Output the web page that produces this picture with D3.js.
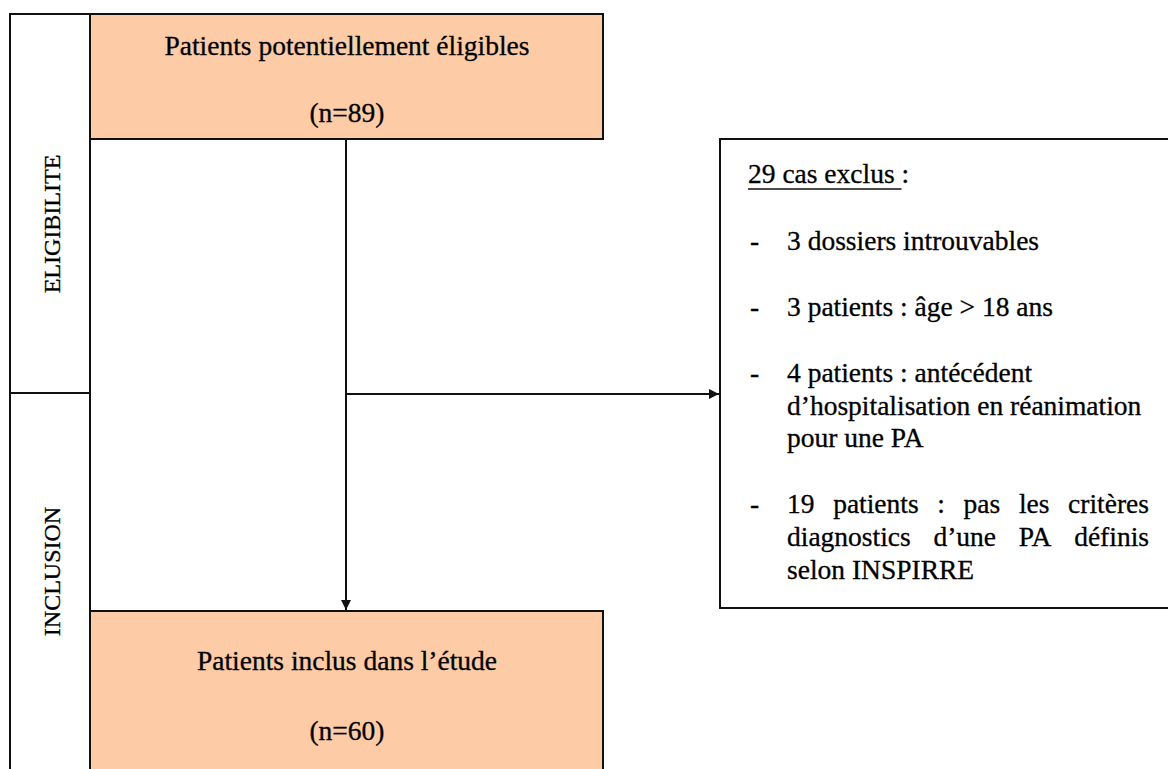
<!DOCTYPE html>
<html>
<head>
<meta charset="utf-8">
<script src="https://cdn.jsdelivr.net/npm/d3@7"></script>
<style>
  body { margin: 0; background: #fff; }
  svg { display: block; }
  text { font-family: "Liberation Serif", "Times New Roman", serif; fill: #000; stroke: #000; stroke-width: 0.3px; }
</style>
</head>
<body>
<svg class="root"></svg>
<script>
// flow data
var stageLabels = ["ELIGIBILITE", "INCLUSION"];
var boxTitles = ["Patients potentiellement éligibles", "Patients inclus dans l’étude"];
var boxCounts = [89, 60];
var excludedTotal = 29;
var exclusionItems = [
  ["3 dossiers introuvables"],
  ["3 patients : âge > 18 ans"],
  ["4 patients : antécédent", "d’hospitalisation en réanimation", "pour une PA"],
  ["19 patients : pas les critères", "diagnostics d’une PA définis", "selon INSPIRRE"]
];
var exclusionJustify = [false, false, false, true];

var width = 1168, height = 769,
    peach = "#fdcba6", ink = "#111", fs = 27.5;

var svg = d3.select(".root")
    .attr("width", width)
    .attr("height", height);

svg.append("defs").append("marker")
    .attr("id", "arrow")
    .attr("viewBox", "0 0 10 10")
    .attr("refX", 10).attr("refY", 5)
    .attr("markerWidth", 5).attr("markerHeight", 5)
    .attr("orient", "auto")
  .append("path")
    .attr("d", "M0,0 L10,5 L0,10 z")
    .attr("fill", ink);

// vertical layout: stage rows
var y = d3.scaleLinear().domain([0, 1, 2]).range([14, 393, 790]);
var colX = [10, 90], boxX = [90, 603];
var boxY = [[14, 139], [611, 790]];

// left stage column
svg.selectAll(".stage")
    .data(stageLabels)
  .enter().append("rect")
    .attr("class", "stage")
    .attr("x", colX[0])
    .attr("y", (d, i) => y(i))
    .attr("width", colX[1] - colX[0])
    .attr("height", (d, i) => y(i + 1) - y(i))
    .attr("fill", "#fff")
    .attr("stroke", ink)
    .attr("stroke-width", 2);

var labelCentre = [224, 571.5];
svg.selectAll(".stage-label")
    .data(stageLabels)
  .enter().append("text")
    .attr("class", "stage-label")
    .attr("text-anchor", "middle")
    .attr("font-size", 24)
    .attr("transform", (d, i) => "translate(60," + labelCentre[i] + ")rotate(-90)")
    .text(d => d);

// arrows
var midX = 346;
svg.append("line")
    .attr("x1", midX).attr("y1", boxY[0][1])
    .attr("x2", midX).attr("y2", boxY[1][0] - 1)
    .attr("stroke", ink).attr("stroke-width", 2)
    .attr("marker-end", "url(#arrow)");

var exX = 720, exY = [139, 608];
svg.append("line")
    .attr("x1", midX).attr("y1", 394)
    .attr("x2", exX - 1).attr("y2", 394)
    .attr("stroke", ink).attr("stroke-width", 2)
    .attr("marker-end", "url(#arrow)");

// main boxes
var boxes = svg.selectAll(".box")
    .data(boxTitles)
  .enter().append("g")
    .attr("class", "box");

boxes.append("rect")
    .attr("x", boxX[0])
    .attr("y", (d, i) => boxY[i][0])
    .attr("width", boxX[1] - boxX[0])
    .attr("height", (d, i) => boxY[i][1] - boxY[i][0])
    .attr("fill", peach)
    .attr("stroke", ink)
    .attr("stroke-width", 2);

var titleBase = [55, 670], countBase = [122, 740];
boxes.append("text")
    .attr("x", 347)
    .attr("y", (d, i) => titleBase[i])
    .attr("text-anchor", "middle")
    .attr("font-size", fs)
    .text(d => d);

boxes.append("text")
    .attr("x", 347)
    .attr("y", (d, i) => countBase[i])
    .attr("text-anchor", "middle")
    .attr("font-size", fs)
    .text((d, i) => "(n=" + boxCounts[i] + ")");

// exclusion box
svg.append("rect")
    .attr("x", exX).attr("y", exY[0])
    .attr("width", 470).attr("height", exY[1] - exY[0])
    .attr("fill", "#fff")
    .attr("stroke", ink)
    .attr("stroke-width", 2);

var textX = 748, itemX = 787, rightX = 1149, lineH = 32.7, gap = 66;

var head = svg.append("text")
    .attr("x", textX).attr("y", 183)
    .attr("font-size", fs)
    .text(excludedTotal + " cas exclus\u00a0");
var headW = head.node().getComputedTextLength();
svg.append("text")
    .attr("x", textX + headW).attr("y", 183)
    .attr("font-size", fs)
    .text(":");
svg.append("line")
    .attr("x1", textX).attr("x2", textX + headW)
    .attr("y1", 189).attr("y2", 189)
    .attr("stroke", ink).attr("stroke-width", 1.5);

var base = 250;
exclusionItems.forEach((lines, k) => {
  svg.append("text")
      .attr("x", 750).attr("y", base)
      .attr("font-size", fs)
      .text("-");
  lines.forEach((line, j) => {
    var yy = base + j * lineH;
    var justify = exclusionJustify[k] && j < lines.length - 1;
    if (!justify) {
      svg.append("text")
          .attr("x", itemX).attr("y", yy)
          .attr("font-size", fs)
          .text(line);
    } else {
      var words = line.split(" ");
      var nodes = words.map(w => svg.append("text")
          .attr("y", yy)
          .attr("font-size", fs)
          .text(w));
      var widths = nodes.map(n => n.node().getComputedTextLength());
      var space = (rightX - itemX - d3.sum(widths)) / (words.length - 1);
      var cx = itemX;
      nodes.forEach((n, m) => {
        n.attr("x", cx);
        cx += widths[m] + space;
      });
    }
  });
  base += (lines.length - 1) * lineH + gap;
});
</script>
</body>
</html>
